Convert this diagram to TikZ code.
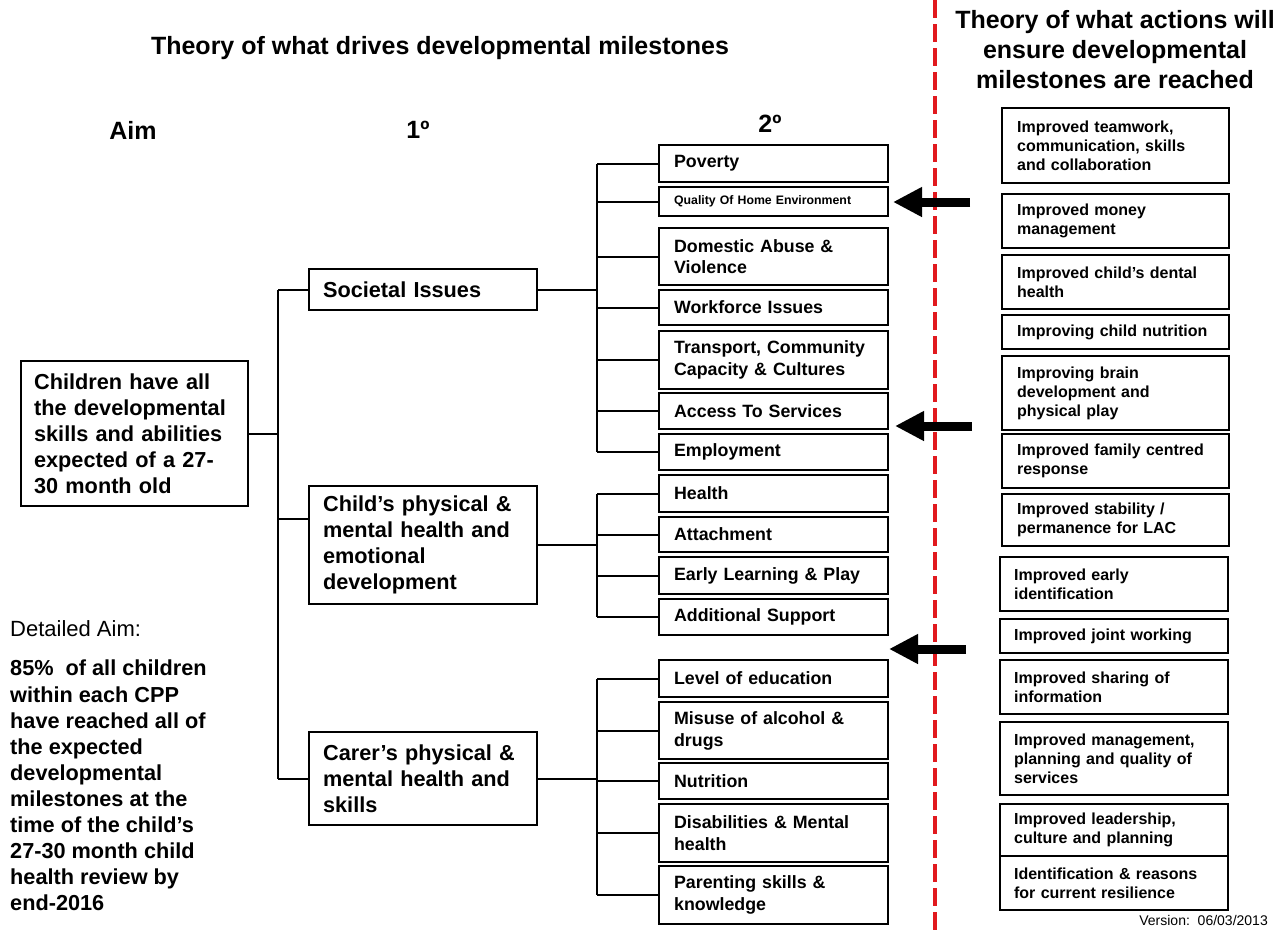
\documentclass[tikz,border=0pt]{standalone}
\usepackage{fontspec}
\setmainfont{Liberation Sans}
\usetikzlibrary{arrows.meta}
\definecolor{dashred}{RGB}{225,25,30}
\begin{document}
\begin{tikzpicture}[x=1pt,y=-1pt,
  every node/.style={inner sep=0pt},
  hdr/.style={font=\fontsize{25}{30}\selectfont\bfseries},
  boxbase/.style={draw, line width=2.2pt, anchor=north west, align=left, inner ysep=0pt},
  aimbox/.style={boxbase, inner xsep=13pt, text width=201pt, font=\fontsize{21.7}{26}\selectfont\bfseries},
  pbox/.style={boxbase, inner xsep=14pt, text width=200pt, font=\fontsize{21.7}{26}\selectfont\bfseries},
  sbox/.style={boxbase, inner xsep=15pt, text width=199pt, font=\fontsize{17.8}{21.7}\selectfont\bfseries},
  rbox/.style={boxbase, inner xsep=15pt, text width=197pt, font=\fontsize{16}{19}\selectfont\bfseries},
  conn/.style={line width=2pt},
  bigarrow/.style={line width=9pt, -{Triangle[length=29pt,width=28pt]}},
  redline/.style={dashred, line width=3.5pt, dash pattern=on 18pt off 6pt}
]
\useasboundingbox (0,0) rectangle (1278,932);

% headings
\node[hdr] (t1) at (440,48) {Theory of what drives developmental milestones};
\node[hdr, align=center] (t2) at (1115,50) {Theory of what actions will\\ensure developmental\\milestones are reached};
\node[hdr] (hAim) at (133,130) {Aim};
\node[hdr] (hOne) at (418,130) {1º};
\node[hdr] (hTwo) at (770,124) {2º};

% aim
\node[aimbox, minimum height=145pt] (aim) at (20,360) {Children have all\\the developmental\\skills and abilities\\expected of a 27-\\30 month old};

\node[anchor=west, font=\fontsize{22}{26}\selectfont] (dAim) at (10,629) {Detailed Aim:};
\node[anchor=north west, align=left, font=\fontsize{21.7}{26.1}\selectfont\bfseries] (dText) at (10,660)
  {85\%\ \ of all children\\within each CPP\\have reached all of\\the expected\\developmental\\milestones at the\\time of the child’s\\27-30 month child\\health review by\\end-2016};

% primary drivers
\node[pbox, minimum height=41pt] (soc) at (308,268) {Societal Issues};
\node[pbox, minimum height=118pt] (chd) at (308,485) {Child’s physical \&\\mental health and\\emotional\\development};
\node[pbox, minimum height=93pt] (car) at (308,731) {Carer’s physical \&\\mental health and\\skills};

% secondary drivers
\node[sbox, minimum height=37pt] (pov) at (658,144) {Poverty};
\node[sbox, minimum height=29pt, font=\fontsize{12.3}{14}\selectfont\bfseries] (qual) at (658,186) {Quality Of Home Environment};
\node[sbox, minimum height=57pt] (dom) at (658,227) {Domestic Abuse \&\\Violence};
\node[sbox, minimum height=35pt] (work) at (658,289) {Workforce Issues};
\node[sbox, minimum height=58pt] (trans) at (658,330) {Transport, Community\\Capacity \& Cultures};
\node[sbox, minimum height=36pt] (acc) at (658,392) {Access To Services};
\node[sbox, minimum height=36pt] (emp) at (658,433) {Employment};

\node[sbox, minimum height=37pt] (hea) at (658,474) {Health};
\node[sbox, minimum height=35pt] (att) at (658,516) {Attachment};
\node[sbox, minimum height=37pt] (early) at (658,556) {Early Learning \& Play};
\node[sbox, minimum height=36pt] (addl) at (658,598) {Additional Support};

\node[sbox, minimum height=37pt] (lev) at (658,659) {Level of education};
\node[sbox, minimum height=57pt] (mis) at (658,701) {Misuse of alcohol \&\\drugs};
\node[sbox, minimum height=36pt] (nut) at (658,762) {Nutrition};
\node[sbox, minimum height=58pt] (dis) at (658,803) {Disabilities \& Mental\\health};
\node[sbox, minimum height=58pt] (par) at (658,865) {Parenting skills \&\\knowledge};

% actions
\node[rbox, minimum height=75pt] (r1) at (1001,107) {Improved teamwork,\\communication, skills\\and collaboration};
\node[rbox, minimum height=54pt] (r2) at (1001,193) {Improved money\\management};
\node[rbox, minimum height=54pt] (r3) at (1001,254) {Improved child’s dental\\health};
\node[rbox, minimum height=34pt] (r4) at (1001,314) {Improving child nutrition};
\node[rbox, minimum height=74pt] (r5) at (1001,355) {Improving brain\\development and\\physical play};
\node[rbox, minimum height=54pt] (r6) at (1001,433) {Improved family centred\\response};
\node[rbox, minimum height=52pt] (r7) at (1001,493) {Improved stability /\\permanence for LAC};
\node[rbox, minimum height=54pt, text width=200pt, inner xsep=14pt] (r8) at (999,556) {Improved early\\identification};
\node[rbox, minimum height=34pt, text width=200pt, inner xsep=14pt] (r9) at (999,618) {Improved joint working};
\node[rbox, minimum height=54pt, text width=200pt, inner xsep=14pt] (r10) at (999,659) {Improved sharing of\\information};
\node[rbox, minimum height=73pt, text width=200pt, inner xsep=14pt] (r11) at (999,721) {Improved management,\\planning and quality of\\services};
\node[rbox, minimum height=52pt, text width=200pt, inner xsep=14pt] (r12) at (999,803) {Improved leadership,\\culture and planning};
\node[rbox, minimum height=54pt, text width=200pt, inner xsep=14pt] (r13) at (999,855) {Identification \& reasons\\for current resilience};

\node[anchor=east, font=\fontsize{14}{16}\selectfont] (ver) at (1268,920) {Version:\ \ 06/03/2013};

% tree connectors
\coordinate (trunk) at (278,0);
\coordinate (br) at (597,0);
\draw[conn] (aim.east) -- (aim.east -| trunk);
\draw[conn] (trunk |- soc.west) -- (trunk |- car.west);
\draw[conn] (trunk |- soc.west) -- (soc.west);
\draw[conn] ([yshift=26pt]chd.west -| trunk) -- ([yshift=26pt]chd.west);
\draw[conn] (trunk |- car.west) -- (car.west);

\draw[conn] (soc.east) -- (soc.east -| br);
\draw[conn] (br |- pov.west) -- (br |- emp.west);
\foreach \n in {pov,qual,dom,work,trans,acc,emp} \draw[conn] (br |- \n.west) -- (\n.west);

\draw[conn] (chd.east) -- (chd.east -| br);
\draw[conn] (br |- hea.west) -- (br |- addl.west);
\foreach \n in {hea,att,early,addl} \draw[conn] (br |- \n.west) -- (\n.west);

\draw[conn] (car.east) -- (car.east -| br);
\draw[conn] (br |- lev.west) -- (br |- par.west);
\foreach \n in {lev,mis,nut,dis,par} \draw[conn] (br |- \n.west) -- (\n.west);

% divider
\coordinate (divTop) at (935,0);
\coordinate (divBot) at (935,932);
\draw[redline] (divTop) -- (divBot);

% pointers
\coordinate (a1s) at (970,202); \coordinate (a1t) at (893,202);
\coordinate (a2s) at (972,426); \coordinate (a2t) at (895,426);
\coordinate (a3s) at (966,649); \coordinate (a3t) at (889,649);
\draw[bigarrow] (a1s) -- (a1t);
\draw[bigarrow] (a2s) -- (a2t);
\draw[bigarrow] (a3s) -- (a3t);
\end{tikzpicture}
\end{document}
